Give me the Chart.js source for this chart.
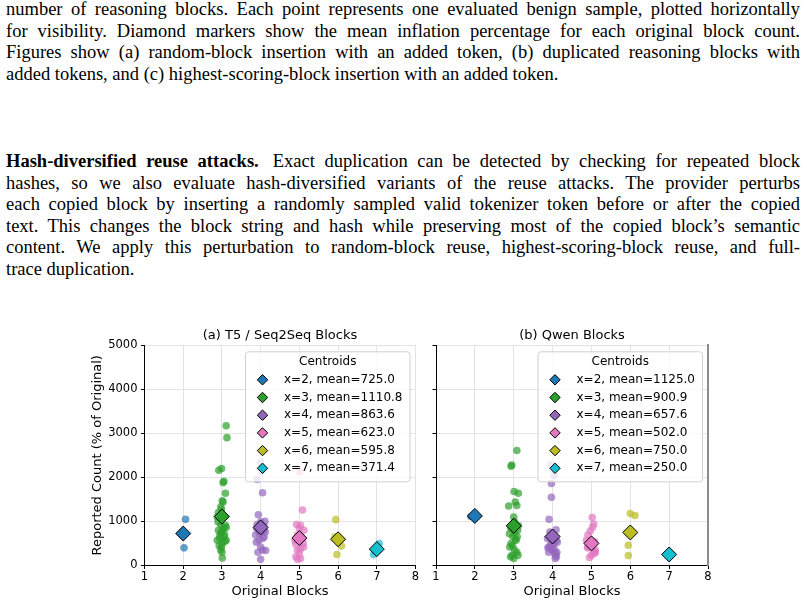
<!DOCTYPE html>
<html>
<head>
<meta charset="utf-8">
<script src="https://cdn.jsdelivr.net/npm/chart.js@4.4.1/dist/chart.umd.min.js"></script>
<style>
  html, body { margin: 0; padding: 0; background: #fff; }
  body { width: 807px; height: 605px; overflow: hidden; position: relative; }
  .text {
    position: absolute; left: 6px; width: 794px;
    font-family: "Liberation Serif", "Times New Roman", serif;
    font-size: 18.5px; line-height: 21.6px; color: #000;
  }
  .text div { white-space: nowrap; text-align: justify; text-align-last: justify; }
  .text div.last { text-align-last: left; }
  .gap { display: inline-block; width: 14px; }
  .panel { position: absolute; top: 320px; }
</style>
</head>
<body>
<div class="text" style="top:-1px">
  <div>number of reasoning blocks. Each point represents one evaluated benign sample, plotted horizontally</div>
  <div>for visibility. Diamond markers show the mean inflation percentage for each original block count.</div>
  <div>Figures show (a) random-block insertion with an added token, (b) duplicated reasoning blocks with</div>
  <div class="last">added tokens, and (c) highest-scoring-block insertion with an added token.</div>
</div>
<div class="text" style="top:151px">
  <div><b>Hash-diversified reuse attacks.</b><span class="gap"></span>Exact duplication can be detected by checking for repeated block</div>
  <div>hashes, so we also evaluate hash-diversified variants of the reuse attacks. The provider perturbs</div>
  <div>each copied block by inserting a randomly sampled valid tokenizer token before or after the copied</div>
  <div>text. This changes the block string and hash while preserving most of the copied block’s semantic</div>
  <div>content. We apply this perturbation to random-block reuse, highest-scoring-block reuse, and full-</div>
  <div class="last">trace duplication.</div>
</div>
<canvas id="chartT5" class="panel" style="left:0" width="425" height="285"></canvas>
<canvas id="chartQwen" class="panel" style="left:425px" width="300" height="285"></canvas>

<script>
// x positions (original block count) and tick labels
const blockCounts = [2, 3, 4, 5, 6, 7];
const xTicks = [1, 2, 3, 4, 5, 6, 7, 8];
const yTicks = [0, 1000, 2000, 3000, 4000, 5000];
const blockColors = ["#1f77b4", "#2ca02c", "#9467bd", "#e377c2", "#bcbd22", "#17becf"];

// centroid means, as printed in the legends
const t5Means = [725.0, 1110.8, 863.6, 623.0, 595.8, 371.4];
const qwenMeans = [1125.0, 900.9, 657.6, 502.0, 750.0, 250.0];

// samples: [horizontal jitter, reported count %]
const t5Block2 = [[0.06, 1050], [0.02, 400]];
const t5Block3 = [[0.11, 3170], [0.13, 2900], [-0.08, 2160], [-0.01, 2200], [0.03, 1880], [0.05, 1910],
  [0.09, 1640], [0.01, 1470], [0.03, 1440], [-0.03, 1330], [-0.01, 1270], [-0.09, 1200], [-0.12, 1100],
  [-0.10, 990], [-0.03, 930], [0.09, 910], [-0.09, 800], [0.01, 780], [0.11, 860], [-0.05, 690],
  [0.05, 650], [0.11, 570], [-0.12, 570], [0.01, 500], [-0.03, 350], [-0.01, 420], [0.01, 170],
  [0.07, 700], [-0.06, 620], [0.08, 550], [-0.02, 750], [0.0, 300], [0.04, 850], [-0.07, 450]];
const t5Block4 = [[0.0, 2340], [0.03, 2140], [-0.09, 1950], [0.05, 1650], [-0.06, 1150], [0.0, 990],
  [0.11, 1000], [-0.09, 930], [0.04, 870], [-0.10, 840], [0.09, 800], [-0.02, 720], [0.12, 760],
  [-0.13, 690], [-0.11, 530], [0.09, 650], [-0.04, 570], [0.06, 620], [0.0, 420], [0.05, 350],
  [0.13, 340], [0.0, 140], [-0.07, 300], [0.08, 900], [-0.05, 780]];
const t5Block5 = [[0.0, 2120], [0.08, 1260], [-0.07, 930], [0.03, 910], [0.0, 840], [0.12, 800],
  [-0.05, 690], [0.05, 650], [-0.09, 480], [0.10, 510], [-0.05, 350], [0.03, 380], [-0.09, 200],
  [0.03, 160], [-0.05, 140], [0.0, 270], [0.08, 610], [-0.11, 560], [0.11, 420]];
const t5Block6 = [[-0.06, 1040], [0.09, 440], [-0.03, 250], [-0.08, 650]];
const t5Block7 = [[0.06, 500], [-0.08, 250], [0.03, 400], [-0.04, 330], [0.05, 377]];

const qwenBlock2 = [[-0.10, 1110], [0.0, 1140]];
const qwenBlock3 = [[0.08, 2610], [-0.07, 2250], [-0.05, 2280], [0.01, 1680], [0.12, 1640], [-0.13, 1350],
  [0.04, 1440], [0.08, 1360], [0.0, 1100], [0.02, 990], [-0.07, 840], [0.10, 800], [-0.02, 650],
  [0.06, 570], [-0.07, 500], [0.02, 350], [-0.04, 230], [0.11, 230], [0.0, 160], [-0.11, 720],
  [0.05, 600], [-0.03, 450], [0.08, 300], [0.12, 900], [-0.08, 200], [0.09, 650], [0.03, 750], [-0.10, 420]];
const qwenBlock4 = [[-0.04, 2290], [0.04, 2040], [-0.03, 1860], [-0.03, 1550], [-0.09, 1050], [-0.07, 760],
  [0.09, 810], [-0.13, 610], [-0.02, 560], [0.10, 570], [-0.09, 420], [0.04, 390], [0.08, 270],
  [0.07, 160], [0.10, 200], [0.0, 350], [-0.12, 400], [0.03, 500], [-0.06, 450], [0.11, 300],
  [-0.10, 300], [0.06, 250], [-0.02, 350], [0.12, 530]];
const qwenBlock5 = [[0.02, 1090], [0.06, 940], [0.03, 870], [-0.03, 780], [-0.09, 690], [-0.13, 570],
  [0.08, 540], [-0.09, 420], [0.10, 350], [0.0, 230], [-0.05, 180], [0.08, 280], [-0.10, 400],
  [0.05, 330], [-0.04, 450], [0.10, 300]];
const qwenBlock6 = [[0.0, 1180], [0.12, 1135], [-0.05, 460], [-0.05, 225]];
const qwenBlock7 = [[0.05, 260], [0.0, 240]];

Chart.defaults.font.family = "'DejaVu Sans', sans-serif";
Chart.defaults.color = "#000";

function fade(hex, a) {
  const n = parseInt(hex.slice(1), 16);
  return `rgba(${n >> 16}, ${(n >> 8) & 255}, ${n & 255}, ${a})`;
}

/******** legend drawn inside the plot area, like matplotlib's loc="upper right" ********/
const centroidLegend = {
  id: "centroidLegend",
  afterDatasetsDraw(chart) {
    const ctx = chart.ctx;
    const area = chart.chartArea;
    const items = chart.data.datasets.filter((d) => d.centroid);
    ctx.save();
    ctx.font = "12px 'DejaVu Sans'";
    const textW = Math.max(...items.map((d) => ctx.measureText(d.label).width));
    const boxW = 38.5 + textW + 7.5;
    const boxH = 130;
    const top = area.top + 6.7;
    const left = area.right - 5.5 - boxW;

    ctx.beginPath();
    ctx.roundRect(left, top, boxW, boxH, 3);
    ctx.fillStyle = "rgba(255,255,255,0.8)";
    ctx.fill();
    ctx.strokeStyle = "#d0d0d0";
    ctx.lineWidth = 1;
    ctx.stroke();

    ctx.fillStyle = "#000";
    ctx.textAlign = "center";
    ctx.textBaseline = "middle";
    ctx.fillText("Centroids", left + boxW / 2, top + 10);

    ctx.textAlign = "left";
    items.forEach((d, i) => {
      const y = top + 28 + i * 17.7;
      const x = left + 17;
      const r = 5.2;
      ctx.beginPath();
      ctx.moveTo(x - r, y);
      ctx.lineTo(x, y - r);
      ctx.lineTo(x + r, y);
      ctx.lineTo(x, y + r);
      ctx.closePath();
      ctx.fillStyle = d.backgroundColor;
      ctx.fill();
      ctx.strokeStyle = "#000";
      ctx.stroke();
      ctx.fillStyle = "#000";
      ctx.fillText(d.label, left + 38.5, y);
    });
    ctx.restore();
  },
};

function buildPanel(canvasId, title, means, groups, isLeft) {
  const datasets = [];
  blockCounts.forEach((b, i) => {
    datasets.push({
      label: `x=${b}, mean=${means[i].toFixed(1)}`,
      centroid: true,
      data: [{ x: b, y: means[i] }],
      pointStyle: "rectRot",
      pointRadius: 7.5,
      backgroundColor: blockColors[i],
      borderColor: "#000",
      borderWidth: 1,
      order: 0,
    });
  });
  blockCounts.forEach((b, i) => {
    datasets.push({
      label: "samples",
      data: groups[i].map(([dx, v]) => ({ x: b + dx, y: v })),
      pointStyle: "circle",
      pointRadius: 3.8,
      backgroundColor: fade(blockColors[i], 0.7),
      borderWidth: 0,
      order: 1,
    });
  });

  const grid = {
    color: "#dcdcdc",
    lineWidth: 0.8,
    borderDash: [3, 2.5],
    tickColor: "#000",
    tickLength: 3.5,
    tickWidth: 1,
    tickBorderDash: [],
  };

  const scales = {
    x: {
      type: "linear",
      min: 1,
      max: 8,
      afterBuildTicks: (s) => { s.ticks = xTicks.map((v) => ({ value: v })); },
      ticks: { font: { size: 11.5 }, padding: 1.5, callback: (v) => String(v) },
      grid: grid,
      border: { color: "#000", width: 1 },
      title: { display: true, text: "Original Blocks", font: { size: 13 }, padding: { top: 0, bottom: 5.5 } },
      afterFit: (s) => { s.height = 39.5; },
    },
    y: {
      type: "linear",
      min: 0,
      max: 5000,
      afterBuildTicks: (s) => { s.ticks = yTicks.map((v) => ({ value: v })); },
      ticks: { font: { size: 11.5 }, padding: 3.5, callback: (v) => (isLeft ? String(v) : "") },
      grid: grid,
      border: { color: "#000", width: 1 },
      title: {
        display: isLeft,
        text: "Reported Count (% of Original)",
        font: { size: 13 },
        padding: { top: 4.5, bottom: 4 },
      },
      afterFit: (s) => { s.width = isLeft ? 59.5 : 11; },
    },
  };
  if (!isLeft) {
    scales.y2 = {
      type: "linear",
      position: "right",
      min: 0,
      max: 5000,
      ticks: { display: false },
      grid: { display: false },
      border: { color: "#8c8c8c", width: 2 },
      afterFit: (s) => { s.width = 0; },
    };
  }

  return new Chart(document.getElementById(canvasId), {
    type: "scatter",
    data: { datasets },
    options: {
      responsive: false,
      animation: false,
      layout: { padding: isLeft ? { left: 85, right: 9.5, top: 0, bottom: 0 } : { left: 0, right: 17, top: 0, bottom: 0 } },
      scales,
      plugins: {
        legend: { display: false },
        tooltip: { enabled: false },
        title: {
          display: true,
          text: title,
          fullSize: false,
          font: { size: 13, weight: "normal" },
          padding: { top: 8, bottom: 1.5 },
        },
      },
    },
    plugins: [centroidLegend],
  });
}

buildPanel("chartT5", "(a) T5 / Seq2Seq Blocks", t5Means,
  [t5Block2, t5Block3, t5Block4, t5Block5, t5Block6, t5Block7], true);
buildPanel("chartQwen", "(b) Qwen Blocks", qwenMeans,
  [qwenBlock2, qwenBlock3, qwenBlock4, qwenBlock5, qwenBlock6, qwenBlock7], false);
</script>
</body>
</html>
